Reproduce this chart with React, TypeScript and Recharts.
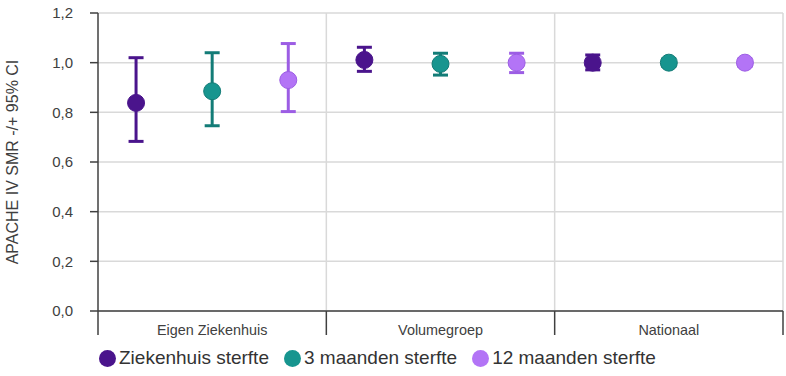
import React from 'react';
import { ComposedChart, Scatter, ErrorBar, XAxis, YAxis, CartesianGrid, ReferenceLine, Legend } from 'recharts';

const categories = ['Eigen Ziekenhuis', 'Volumegroep', 'Nationaal'];
const seriesNames = ['Ziekenhuis sterfte', '3 maanden sterfte', '12 maanden sterfte'];

const ziekenhuisSMR = [0.838, 1.011, 1.0];
const ziekenhuisLow = [0.683, 0.965, 0.971];
const ziekenhuisHigh = [1.02, 1.062, 1.031];

const drieSMR = [0.885, 0.995, 1.0];
const drieLow = [0.746, 0.95, 0.985];
const drieHigh = [1.04, 1.038, 1.015];

const twaalfSMR = [0.93, 1.0, 1.0];
const twaalfLow = [0.803, 0.96, 0.985];
const twaalfHigh = [1.077, 1.038, 1.015];

const yTicks = [0, 0.2, 0.4, 0.6, 0.8, 1.0, 1.2];

const fills = ['#4A148C', '#17958F', '#B374F6'];
const strokes = ['#4A148C', '#137C77', '#9C5DE4'];
const FONT = 'Liberation Sans, Arial, sans-serif';

const build = (vals: number[], lows: number[], highs: number[], j: number) =>
  vals.map((v, i) => ({ x: 3 * i + j + 0.5, y: v, err: [v - lows[i], highs[i] - v] }));

const data0 = build(ziekenhuisSMR, ziekenhuisLow, ziekenhuisHigh, 0);
const data1 = build(drieSMR, drieLow, drieHigh, 1);
const data2 = build(twaalfSMR, twaalfLow, twaalfHigh, 2);

const xTicks = [0, 1.5, 3, 4.5, 6, 7.5, 9];

const XTick = (props: any) => {
  const { x, y, payload } = props;
  const v = payload.value;
  if (v % 3 === 0) {
    return <line x1={x} x2={x} y1={y} y2={y + 24} stroke="#404040" strokeWidth={1.5} />;
  }
  const idx = Math.floor(v / 3);
  return (
    <text x={x} y={y + 24} textAnchor="middle" fontSize={14.4} fill="#404040" fontFamily={FONT}>
      {categories[idx]}
    </text>
  );
};

const makeShape = (j: number) => (props: any) => (
  <circle cx={props.cx} cy={props.cy} r={8.5} fill={fills[j]} stroke={strokes[j]} strokeWidth={1} />
);

const LegendContent = () => (
  <div style={{ display: 'flex', alignItems: 'center', fontFamily: FONT, fontSize: 19, color: '#333', lineHeight: '22px' }}>
    {seriesNames.map((n, j) => (
      <div key={n} style={{ display: 'flex', alignItems: 'center', marginRight: 15 }}>
        <span style={{ display: 'inline-block', width: 17, height: 17, borderRadius: '50%', background: fills[j], marginRight: 3 }} />
        <span>{n}</span>
      </div>
    ))}
  </div>
);

export default function App() {
  return (
    <div style={{ position: 'absolute', left: 0, top: 0, background: '#fff' }}>
      <ComposedChart width={786} height={376} margin={{ top: 13, right: 3, bottom: 19, left: 0 }}>
        <CartesianGrid vertical={false} stroke="#d9d9d9" strokeWidth={1.5} />
        <ReferenceLine x={3} stroke="#d9d9d9" strokeWidth={1.5} />
        <ReferenceLine x={6} stroke="#d9d9d9" strokeWidth={1.5} />
        <ReferenceLine x={9} stroke="#d9d9d9" strokeWidth={1.5} />
        <XAxis
          type="number"
          dataKey="x"
          domain={[0, 9]}
          ticks={xTicks}
          interval={0}
          tickSize={0}
          tickMargin={0}
          tick={<XTick />}
          height={24}
          stroke="#404040"
          strokeWidth={1.5}
          allowDataOverflow
        />
        <YAxis
          type="number"
          dataKey="y"
          domain={[0, 1.2]}
          ticks={yTicks}
          width={98}
          tickSize={8}
          tickMargin={17}
          stroke="#404040"
          strokeWidth={1.5}
          tick={{ fontSize: 15, fill: '#404040', fontFamily: FONT }}
          tickFormatter={(v: number) => v.toFixed(1).replace('.', ',')}
          label={{ value: 'APACHE IV SMR -/+ 95% CI', angle: -90, position: 'insideLeft', dx: 7.5, style: { textAnchor: 'middle', fontSize: 16, fill: '#404040', fontFamily: FONT } }}
        />
        <Legend content={<LegendContent />} wrapperStyle={{ position: 'absolute', left: 99, top: 347, width: 680 }} />
        {[data0, data1, data2].map((d, j) => (
          <Scatter key={j} name={seriesNames[j]} data={d} fill={fills[j]} shape={makeShape(j)} isAnimationActive={false}>
            <ErrorBar dataKey="err" direction="y" width={7.5} stroke={strokes[j]} strokeWidth={3} />
          </Scatter>
        ))}
      </ComposedChart>
    </div>
  );
}
